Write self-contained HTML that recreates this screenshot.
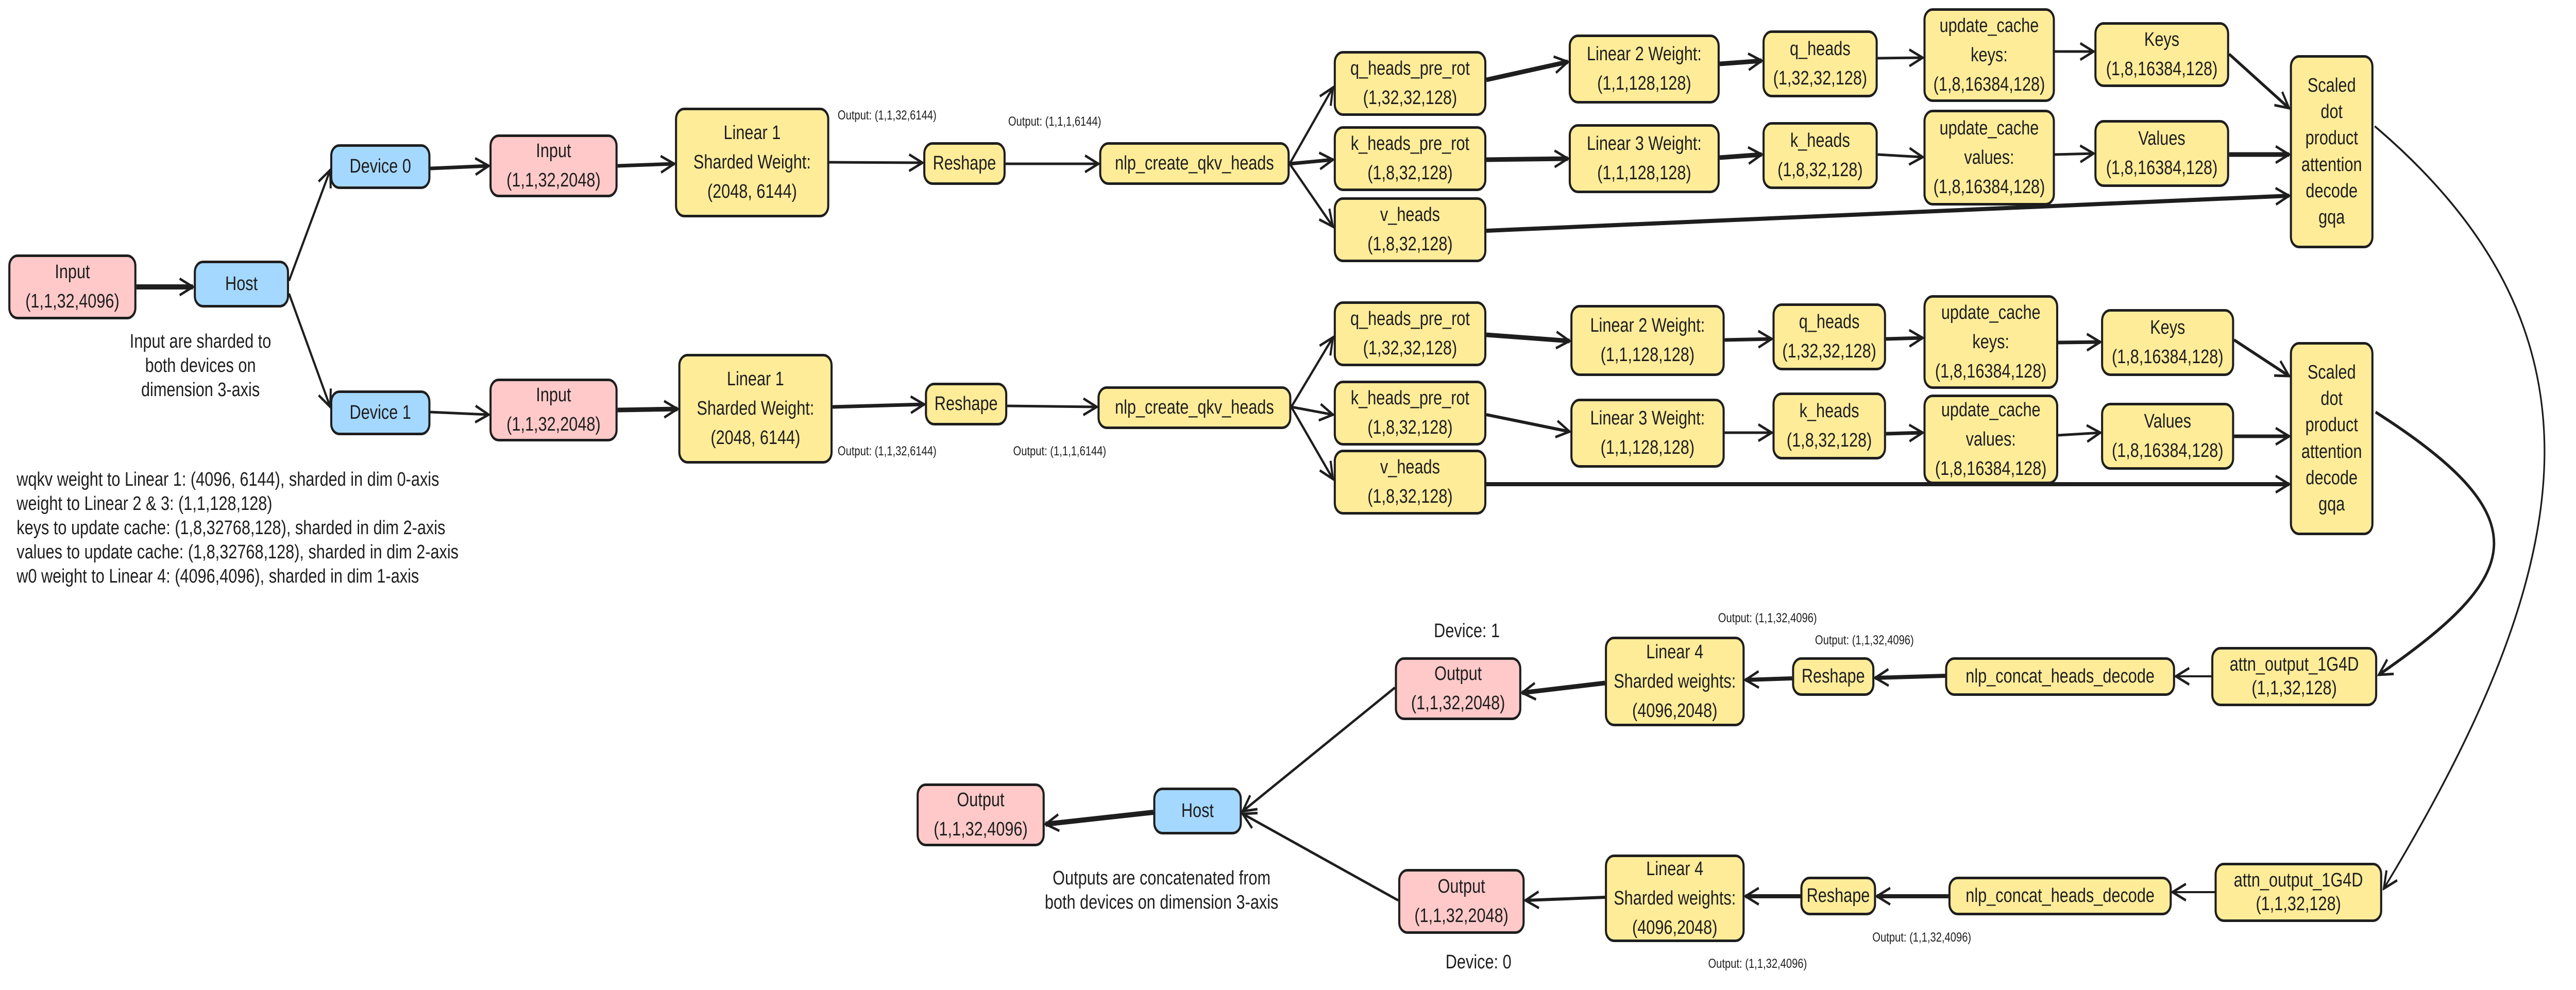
<!DOCTYPE html>
<html><head><meta charset="utf-8"><style>
html,body{margin:0;padding:0;background:#fff;overflow:hidden;width:100%;height:100%;}
#root{position:fixed;left:0;top:0;width:100vw;height:100vh;}
.c{position:relative;width:6194px;height:1922px;font-family:"Liberation Sans",sans-serif;color:#1e1e1e;}
.n{position:absolute;box-sizing:border-box;border:5px solid #1e1e1e;border-radius:22px;display:flex;align-items:center;justify-content:center;text-align:center;font-size:38px;line-height:1.5;}
.p{background:#ffc9c9}.b{background:#a5d8ff}.y{background:#ffec99}
.t{position:absolute;white-space:nowrap;text-align:center;transform:translateX(-50%);}
.s{font-size:25px;}
.m{font-size:38px;line-height:47px;}
</style></head><body>
<svg id="root" viewBox="0 0 6194 1922" preserveAspectRatio="none" xmlns="http://www.w3.org/2000/svg">
<defs>
<marker id="A" markerWidth="40" markerHeight="40" refX="36" refY="20" orient="auto" markerUnits="userSpaceOnUse"><path d="M4,4 L36,20 L4,36" fill="none" stroke="#1e1e1e" stroke-width="5"/></marker></defs>
<rect x="0" y="0" width="6194" height="1922" fill="#fff"/>
<g stroke="#1e1e1e" fill="none" marker-end="url(#A)">
<line x1="328" y1="557" x2="464" y2="557" stroke-width="10"/>
<line x1="695" y1="545" x2="794" y2="330" stroke-width="5"/>
<line x1="695" y1="570" x2="794" y2="790" stroke-width="5"/>
<line x1="1035" y1="327" x2="1175" y2="322" stroke-width="7"/>
<line x1="1035" y1="800" x2="1175" y2="805" stroke-width="5"/>
<line x1="1485" y1="322" x2="1621" y2="318" stroke-width="7"/>
<line x1="1485" y1="796" x2="1629" y2="794" stroke-width="9"/>
<line x1="1994" y1="315" x2="2218" y2="316" stroke-width="5"/>
<line x1="2002" y1="790" x2="2222" y2="785" stroke-width="7"/>
<line x1="2418" y1="318" x2="2641" y2="318" stroke-width="5"/>
<line x1="2422" y1="788" x2="2637" y2="790" stroke-width="5"/>
<line x1="3101" y1="318" x2="3205" y2="170" stroke-width="5"/>
<line x1="3101" y1="318" x2="3205" y2="310" stroke-width="7"/>
<line x1="3101" y1="318" x2="3205" y2="440" stroke-width="5"/>
<line x1="3105" y1="790" x2="3205" y2="655" stroke-width="5"/>
<line x1="3105" y1="790" x2="3205" y2="805" stroke-width="5"/>
<line x1="3105" y1="790" x2="3205" y2="930" stroke-width="5"/>
<line x1="3574" y1="155" x2="3770" y2="120" stroke-width="9"/>
<line x1="3574" y1="310" x2="3770" y2="308" stroke-width="9"/>
<line x1="3574" y1="448" x2="5504" y2="380" stroke-width="8"/>
<line x1="3574" y1="650" x2="3774" y2="662" stroke-width="9"/>
<line x1="3574" y1="805" x2="3774" y2="838" stroke-width="6"/>
<line x1="3574" y1="940" x2="5504" y2="940" stroke-width="8"/>
<line x1="4135" y1="124" x2="4236" y2="118" stroke-width="9"/>
<line x1="4135" y1="306" x2="4236" y2="300" stroke-width="9"/>
<line x1="4147" y1="660" x2="4260" y2="658" stroke-width="7"/>
<line x1="4147" y1="840" x2="4260" y2="840" stroke-width="5"/>
<line x1="4515" y1="113" x2="4623" y2="112" stroke-width="5"/>
<line x1="4515" y1="300" x2="4623" y2="305" stroke-width="5"/>
<line x1="4535" y1="658" x2="4623" y2="656" stroke-width="7"/>
<line x1="4535" y1="842" x2="4623" y2="840" stroke-width="7"/>
<line x1="4941" y1="100" x2="5034" y2="100" stroke-width="5"/>
<line x1="4941" y1="300" x2="5034" y2="298" stroke-width="5"/>
<line x1="4949" y1="665" x2="5050" y2="664" stroke-width="7"/>
<line x1="4949" y1="845" x2="5050" y2="840" stroke-width="5"/>
<line x1="5360" y1="105" x2="5504" y2="210" stroke-width="6"/>
<line x1="5360" y1="300" x2="5504" y2="300" stroke-width="9"/>
<line x1="5372" y1="660" x2="5504" y2="730" stroke-width="6"/>
<line x1="5372" y1="847" x2="5504" y2="847" stroke-width="7"/>
<path d="M5710,245 C6300,650 6200,1100 5732,1725" stroke-width="4"/>
<path d="M5712,800 C6120,1010 6060,1120 5720,1310" stroke-width="6"/>
<line x1="5317" y1="1313" x2="5232" y2="1313" stroke-width="4"/>
<line x1="4677" y1="1312" x2="4509" y2="1316" stroke-width="8"/>
<line x1="4309" y1="1317" x2="4197" y2="1320" stroke-width="8"/>
<line x1="3859" y1="1326" x2="3660" y2="1345" stroke-width="9"/>
<line x1="5325" y1="1732" x2="5224" y2="1732" stroke-width="4"/>
<line x1="4685" y1="1740" x2="4513" y2="1740" stroke-width="8"/>
<line x1="4329" y1="1740" x2="4197" y2="1740" stroke-width="8"/>
<line x1="3859" y1="1742" x2="3668" y2="1748" stroke-width="6"/>
<line x1="3354" y1="1335" x2="2988" y2="1575" stroke-width="5"/>
<line x1="3362" y1="1748" x2="2988" y2="1580" stroke-width="5"/>
<line x1="2773" y1="1577" x2="2514" y2="1600" stroke-width="10"/>
</g>
<foreignObject x="0" y="0" width="6194" height="1922">
<div xmlns="http://www.w3.org/1999/xhtml" class="c">
<div class="n p" style="left:20px;top:494px;width:308px;height:126px">Input<br/>(1,1,32,4096)</div>
<div class="n b" style="left:466px;top:506px;width:229px;height:91px">Host</div>
<div class="n b" style="left:794px;top:280px;width:241px;height:87px">Device 0</div>
<div class="n b" style="left:794px;top:758px;width:241px;height:87px">Device 1</div>
<div class="n p" style="left:1177px;top:261px;width:308px;height:122px">Input<br/>(1,1,32,2048)</div>
<div class="n p" style="left:1177px;top:735px;width:308px;height:122px">Input<br/>(1,1,32,2048)</div>
<div class="n y" style="left:1623px;top:209px;width:371px;height:213px">Linear 1<br/>Sharded Weight:<br/>(2048, 6144)</div>
<div class="n y" style="left:1631px;top:687px;width:371px;height:213px">Linear 1<br/>Sharded Weight:<br/>(2048, 6144)</div>
<div class="n y" style="left:2220px;top:276px;width:198px;height:83px">Reshape</div>
<div class="n y" style="left:2224px;top:743px;width:198px;height:83px">Reshape</div>
<div class="n y" style="left:2643px;top:276px;width:458px;height:83px">nlp_create_qkv_heads</div>
<div class="n y" style="left:2639px;top:750px;width:466px;height:83px">nlp_create_qkv_heads</div>

<div class="n y" style="left:3207px;top:99px;width:367px;height:126px">q_heads_pre_rot<br/>(1,32,32,128)</div>
<div class="n y" style="left:3207px;top:245px;width:367px;height:126px">k_heads_pre_rot<br/>(1,8,32,128)</div>
<div class="n y" style="left:3207px;top:383px;width:367px;height:126px">v_heads<br/>(1,8,32,128)</div>
<div class="n y" style="left:3207px;top:585px;width:367px;height:126px">q_heads_pre_rot<br/>(1,32,32,128)</div>
<div class="n y" style="left:3207px;top:739px;width:367px;height:126px">k_heads_pre_rot<br/>(1,8,32,128)</div>
<div class="n y" style="left:3207px;top:873px;width:367px;height:126px">v_heads<br/>(1,8,32,128)</div>

<div class="n y" style="left:3772px;top:67px;width:363px;height:134px">Linear 2 Weight:<br/>(1,1,128,128)</div>
<div class="n y" style="left:3772px;top:241px;width:363px;height:134px">Linear 3 Weight:<br/>(1,1,128,128)</div>
<div class="n y" style="left:3776px;top:592px;width:371px;height:138px">Linear 2 Weight:<br/>(1,1,128,128)</div>
<div class="n y" style="left:3776px;top:774px;width:371px;height:134px">Linear 3 Weight:<br/>(1,1,128,128)</div>

<div class="n y" style="left:4238px;top:59px;width:277px;height:130px">q_heads<br/>(1,32,32,128)</div>
<div class="n y" style="left:4238px;top:237px;width:277px;height:130px">k_heads<br/>(1,8,32,128)</div>
<div class="n y" style="left:4262px;top:589px;width:273px;height:130px">q_heads<br/>(1,32,32,128)</div>
<div class="n y" style="left:4262px;top:762px;width:273px;height:130px">k_heads<br/>(1,8,32,128)</div>

<div class="n y" style="left:4625px;top:16px;width:316px;height:182px">update_cache<br/>keys:<br/>(1,8,16384,128)</div>
<div class="n y" style="left:4625px;top:213px;width:316px;height:186px">update_cache<br/>values:<br/>(1,8,16384,128)</div>
<div class="n y" style="left:4625px;top:573px;width:324px;height:182px">update_cache<br/>keys:<br/>(1,8,16384,128)</div>
<div class="n y" style="left:4625px;top:766px;width:324px;height:174px">update_cache<br/>values:<br/>(1,8,16384,128)</div>

<div class="n y" style="left:5036px;top:43px;width:324px;height:126px">Keys<br/>(1,8,16384,128)</div>
<div class="n y" style="left:5036px;top:233px;width:324px;height:130px">Values<br/>(1,8,16384,128)</div>
<div class="n y" style="left:5052px;top:600px;width:320px;height:130px">Keys<br/>(1,8,16384,128)</div>
<div class="n y" style="left:5052px;top:782px;width:320px;height:130px">Values<br/>(1,8,16384,128)</div>

<div class="n y" style="left:5506px;top:107px;width:201px;height:375px;line-height:1.35">Scaled<br/>dot<br/>product<br/>attention<br/>decode<br/>gqa</div>
<div class="n y" style="left:5506px;top:664px;width:201px;height:375px;line-height:1.35">Scaled<br/>dot<br/>product<br/>attention<br/>decode<br/>gqa</div>

<div class="n y" style="left:5317px;top:1256px;width:399px;height:115px;line-height:1.2">attn_output_1G4D<br/>(1,1,32,128)</div>
<div class="n y" style="left:4677px;top:1276px;width:553px;height:75px">nlp_concat_heads_decode</div>
<div class="n y" style="left:4309px;top:1276px;width:198px;height:75px">Reshape</div>
<div class="n y" style="left:3859px;top:1236px;width:336px;height:174px">Linear 4<br/>Sharded weights:<br/>(4096,2048)</div>
<div class="n p" style="left:3354px;top:1276px;width:304px;height:122px">Output<br/>(1,1,32,2048)</div>

<div class="n y" style="left:5325px;top:1675px;width:403px;height:115px;line-height:1.2">attn_output_1G4D<br/>(1,1,32,128)</div>
<div class="n y" style="left:4685px;top:1702px;width:537px;height:75px">nlp_concat_heads_decode</div>
<div class="n y" style="left:4329px;top:1702px;width:182px;height:75px">Reshape</div>
<div class="n y" style="left:3859px;top:1659px;width:336px;height:170px">Linear 4<br/>Sharded weights:<br/>(4096,2048)</div>
<div class="n p" style="left:3362px;top:1687px;width:304px;height:126px">Output<br/>(1,1,32,2048)</div>

<div class="n b" style="left:2773px;top:1529px;width:213px;height:91px">Host</div>
<div class="n p" style="left:2204px;top:1521px;width:308px;height:122px">Output<br/>(1,1,32,4096)</div>

<div class="t s" style="left:2133px;top:210px">Output: (1,1,32,6144)</div>
<div class="t s" style="left:2536px;top:222px">Output: (1,1,1,6144)</div>
<div class="t s" style="left:2133px;top:862px">Output: (1,1,32,6144)</div>
<div class="t s" style="left:2548px;top:862px">Output: (1,1,1,6144)</div>
<div class="t s" style="left:4250px;top:1186px">Output: (1,1,32,4096)</div>
<div class="t s" style="left:4483px;top:1229px">Output: (1,1,32,4096)</div>
<div class="t s" style="left:4621px;top:1806px">Output: (1,1,32,4096)</div>
<div class="t s" style="left:4226px;top:1857px">Output: (1,1,32,4096)</div>
<div class="t m" style="left:3527px;top:1202px">Device: 1</div>
<div class="t m" style="left:3555px;top:1845px">Device: 0</div>
<div class="t m" style="left:482px;top:640px">Input are sharded to<br/>both devices on<br/>dimension 3-axis</div>
<div class="t m" style="left:2793px;top:1682px">Outputs are concatenated from<br/>both devices on dimension 3-axis</div>
<div class="m" style="position:absolute;left:40px;top:908px;white-space:nowrap">wqkv weight to Linear 1: (4096, 6144), sharded in dim 0-axis<br/>weight to Linear 2 &amp; 3: (1,1,128,128)<br/>keys to update cache: (1,8,32768,128), sharded in dim 2-axis<br/>values to update cache: (1,8,32768,128), sharded in dim 2-axis<br/>w0 weight to Linear 4: (4096,4096), sharded in dim 1-axis</div>
</div>
</foreignObject>
</svg>
</body></html>
